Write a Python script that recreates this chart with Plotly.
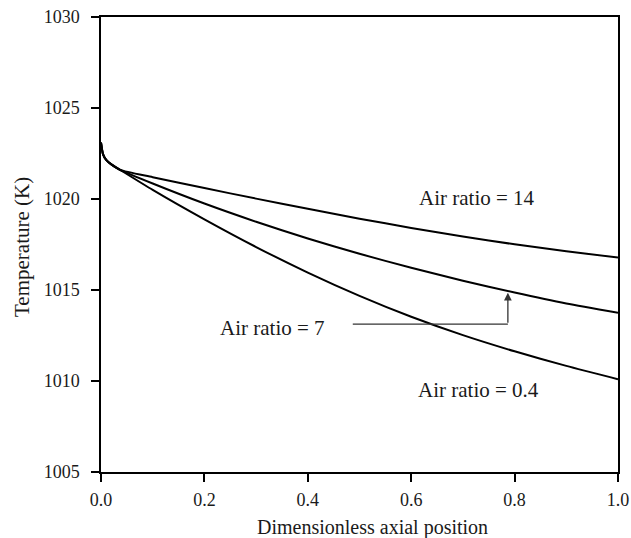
import plotly.graph_objects as go

# Data
x_pos = [0.0, 0.004, 0.01, 0.02, 0.037, 0.1, 0.2, 0.3, 0.4, 0.5, 0.6, 0.7, 0.8, 0.9, 1.0]
temp_air14 = [1023.1, 1022.45, 1022.15, 1021.9, 1021.6, 1021.2, 1020.6, 1020.02, 1019.46,
              1018.92, 1018.41, 1017.94, 1017.51, 1017.13, 1016.78]
temp_air7 = [1023.1, 1022.45, 1022.15, 1021.9, 1021.6, 1020.85, 1019.75, 1018.75, 1017.83,
             1016.99, 1016.22, 1015.51, 1014.86, 1014.26, 1013.75]
temp_air04 = [1023.1, 1022.45, 1022.15, 1021.9, 1021.6, 1020.5, 1018.88, 1017.36, 1015.96,
              1014.68, 1013.53, 1012.52, 1011.63, 1010.83, 1010.1]

labels = ["Air ratio = 14", "Air ratio = 7", "Air ratio = 0.4"]
label_x = [0.727, 0.331, 0.731]
label_y = [1020.05, 1012.9, 1009.5]

# leader line for "Air ratio = 7"
leader_x = [0.487, 0.787]
leader_y = 1013.12
arrow_tip_y = 1014.85

x_ticks = [0.0, 0.2, 0.4, 0.6, 0.8, 1.0]
y_ticks = [1005, 1010, 1015, 1020, 1025, 1030]

FONT = "Liberation Serif"
TXT = "#1a1a1a"

fig = go.Figure()
for ys in (temp_air14, temp_air7, temp_air04):
    fig.add_trace(go.Scatter(x=x_pos, y=ys, mode="lines",
                             line=dict(color="black", width=2, shape="spline", smoothing=0.6),
                             showlegend=False, hoverinfo="skip"))

for t, lx, ly in zip(labels, label_x, label_y):
    fig.add_annotation(x=lx, y=ly, text=t, showarrow=False, xref="x", yref="y",
                       font=dict(family=FONT, size=21, color=TXT))

fig.add_shape(type="line", x0=leader_x[0], x1=leader_x[1], y0=leader_y, y1=leader_y,
              xref="x", yref="y", line=dict(color="#333", width=1.3))
fig.add_annotation(x=leader_x[1], y=arrow_tip_y, ax=leader_x[1], ay=leader_y,
                   xref="x", yref="y", axref="x", ayref="y", text="", showarrow=True,
                   arrowhead=2, arrowsize=1.2, arrowwidth=1.3, arrowcolor="#333")

W, H = 631, 538
ml, mr, mt, mb = 101, 13, 17, 66
plot_w = W - ml - mr
plot_h = H - mt - mb

fig.add_annotation(text="Temperature (K)", textangle=-90, xref="paper", yref="paper",
                   x=(22 - ml) / plot_w, y=1 - (247 - mt) / plot_h,
                   showarrow=False, xanchor="center", yanchor="middle",
                   font=dict(family=FONT, size=21, color=TXT))
fig.add_annotation(text="Dimensionless axial position", xref="paper", yref="paper",
                   x=(372 - ml) / plot_w, y=1 - (527 - mt) / plot_h,
                   showarrow=False, xanchor="center", yanchor="middle",
                   font=dict(family=FONT, size=20, color=TXT))

fig.update_layout(
    template="none",
    width=W, height=H,
    margin=dict(l=ml, r=mr, t=mt, b=mb, autoexpand=False),
    paper_bgcolor="white", plot_bgcolor="white",
    font=dict(family=FONT, size=18, color=TXT),
    xaxis=dict(range=[0, 1.0], tickvals=x_ticks, tickformat=".1f", automargin=False,
               showgrid=False, zeroline=False, showline=True, linecolor="black",
               linewidth=1.5, mirror=True, ticks="outside", ticklen=8, tickwidth=1.5,
               tickcolor="black", ticklabelstandoff=3),
    yaxis=dict(range=[1005, 1030], tickvals=y_ticks, automargin=False,
               showgrid=False, zeroline=False, showline=True, linecolor="black",
               linewidth=1.5, mirror=True, ticks="outside", ticklen=8, tickwidth=1.5,
               tickcolor="black", ticklabelstandoff=8),
)

fig.write_html("out.html", config={"displayModeBar": False},
               post_script="document.body.style.margin='0';")
